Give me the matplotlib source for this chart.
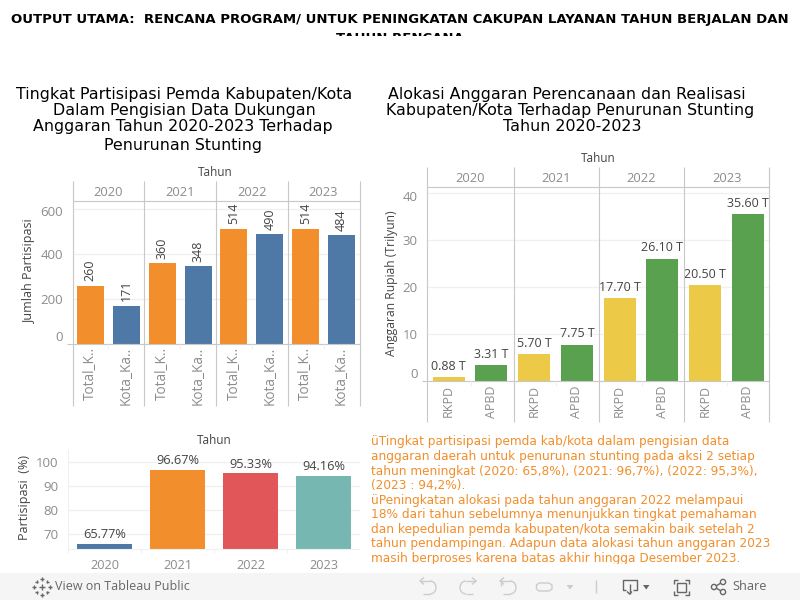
import numpy as np
import matplotlib
matplotlib.use('Agg')
import matplotlib.pyplot as plt
from matplotlib.patches import Rectangle, Circle, Arc, Polygon
from matplotlib.transforms import ScaledTranslation

# Data
years = ['2020', '2021', '2022', '2023']

partisipasi_labels = ['Total_K..', 'Kota_Ka..'] * 4
partisipasi_values = [260, 171, 360, 348, 514, 490, 514, 484]

anggaran_labels = ['RKPD', 'APBD'] * 4
anggaran_values = [0.88, 3.31, 5.70, 7.75, 17.70, 26.10, 20.50, 35.60]

persen_values = [65.77, 96.67, 95.33, 94.16]

heading = 'OUTPUT UTAMA:  RENCANA PROGRAM/ UNTUK PENINGKATAN CAKUPAN LAYANAN TAHUN BERJALAN DAN'
heading2 = 'TAHUN RENCANA'
title_left = ['Tingkat Partisipasi Pemda Kabupaten/Kota', 'Dalam Pengisian Data Dukungan',
              'Anggaran Tahun 2020-2023 Terhadap', 'Penurunan Stunting']
title_right = ['Alokasi Anggaran Perencanaan dan Realisasi', 'Kabupaten/Kota Terhadap Penurunan Stunting',
               'Tahun 2020-2023']
notes = ['üTingkat partisipasi pemda kab/kota dalam pengisian data',
         'anggaran daerah untuk penurunan stunting pada aksi 2 setiap',
         'tahun meningkat (2020: 65,8%), (2021: 96,7%), (2022: 95,3%),',
         '(2023 : 94,2%).',
         'üPeningkatan alokasi pada tahun anggaran 2022 melampaui',
         '18% dari tahun sebelumnya menunjukkan tingkat pemahaman',
         'dan kepedulian pemda kabupaten/kota semakin baik setelah 2',
         'tahun pendampingan. Adapun data alokasi tahun anggaran 2023',
         'masih berproses karena batas akhir hingga Desember 2023.']

ORANGE = '#f28e2b'
BLUE = '#4e79a7'
YELLOW = '#edc948'
GREEN = '#59a14f'
RED = '#e15759'
TEAL = '#76b7b2'
GRID = '#f0f0f0'
PANEL = '#c8c8c8'
TICK_TXT = '#8c8c8c'
DARK = '#444444'
TAB_FONT = 'Open Sans'

W, H = 800, 600
fig = plt.figure(figsize=(W / 100, H / 100), dpi=100, facecolor='white')

# overlay in pixel coordinates for the texts and the frame lines
ov = fig.add_axes([0, 0, 1, 1], zorder=5)
ov.set_xlim(0, W)
ov.set_ylim(H, 0)
ov.axis('off')


def px_axes(left, right, top, bottom):
    return fig.add_axes([left / W, 1 - bottom / H, (right - left) / W, (bottom - top) / H])


def style_axes(ax, yticks, ymin, ymax):
    for s in ax.spines.values():
        s.set_visible(False)
    ax.set_ylim(ymin, ymax)
    ax.set_yticks(yticks)
    ax.grid(axis='y', color=GRID, linewidth=1)
    ax.set_axisbelow(True)
    ax.tick_params(axis='y', length=0, pad=7, labelsize=9.5, labelcolor=TICK_TXT)
    ax.tick_params(axis='x', length=0, labelsize=9.2, labelcolor=TICK_TXT)
    for t in ax.get_yticklabels() + ax.get_xticklabels():
        t.set_fontfamily(TAB_FONT)


def shift_label(label, dy_px):
    label.set_transform(label.get_transform() + ScaledTranslation(0, dy_px / 100, fig.dpi_scale_trans))


def vline(x, y0, y1, color=PANEL, lw=0.8):
    ov.plot([x, x], [y0, y1], color=color, lw=lw, solid_capstyle='butt')


def hline(y, x0, x1, color=PANEL, lw=0.8):
    ov.plot([x0, x1], [y, y], color=color, lw=lw, solid_capstyle='butt')


def tab_text(x, y, s, size=9, color=DARK, **kw):
    kw.setdefault('ha', 'center')
    kw.setdefault('va', 'center')
    ov.text(x, y, s, fontsize=size, color=color, fontfamily=TAB_FONT, **kw)


# heading, the second line is cut off by its container
ov.text(399.5, 20, heading, fontsize=9.5, fontweight='bold', ha='center', va='center', color='black')
ov.text(400, 39, heading2, fontsize=9.5, fontweight='bold', ha='center', va='center', color='black')
ov.add_patch(Rectangle((0, 35.5), W, 15, facecolor='white', edgecolor='none', zorder=3))

for line, x, y in zip(title_left, [184.5, 184.5, 183, 183.5], [94.5, 110.5, 126.5, 145.5]):
    ov.text(x, y, line, fontsize=11.4, ha='center', va='center', color='black')
for line, x, y in zip(title_right, [567, 570, 572], [94.5, 110.5, 126.5]):
    ov.text(x, y, line, fontsize=11.4, ha='center', va='center', color='black')

# participation count chart
ax1 = px_axes(72.5, 359.5, 201.3, 344)
x1 = np.arange(len(partisipasi_values))
ax1.bar(x1, partisipasi_values, width=0.75, color=[ORANGE, BLUE] * 4)
ax1.set_xlim(-0.5, 7.5)
style_axes(ax1, [0, 200, 400, 600], 0, 635.6)
ax1.set_xticks(x1)
ax1.set_xticklabels(partisipasi_labels, rotation=90, va='top', fontfamily=TAB_FONT, fontsize=9.8)
ax1.tick_params(axis='x', pad=2)
ax1.get_yticklabels()[0].set_va('bottom')
shift_label(ax1.get_yticklabels()[-1], -2)
for x, v in zip(x1, partisipasi_values):
    ax1.annotate(str(v), (x, v), xytext=(0, 3), textcoords='offset points', rotation=90,
                 ha='center', va='bottom', fontsize=9, color=DARK, fontfamily=TAB_FONT)
for x in [72.5, 144, 216, 287.5, 359.5]:
    vline(x, 181, 406)
hline(201.3, 72.5, 359.5)
hline(344, 67, 359.5)
for x in [108, 180, 252, 323.5]:
    vline(x, 344, 349, color=GRID)
for x, year in zip([108, 180, 252, 323.5], years):
    tab_text(x, 192, year, size=9.3, color=TICK_TXT)
tab_text(215, 172, 'Tahun', size=8.5)
tab_text(30, 272, 'Jumlah Partisipasi', size=9, rotation=90)

# budget chart
ax2 = px_axes(427.3, 769.3, 187.3, 381)
x2 = np.arange(len(anggaran_values))
ax2.bar(x2, anggaran_values, width=0.75, color=[YELLOW, GREEN] * 4)
ax2.set_xlim(-0.5, 7.5)
style_axes(ax2, [0, 10, 20, 30, 40], 0, 41.3)
ax2.set_xticks(x2)
ax2.set_xticklabels(anggaran_labels, rotation=90, va='top', fontfamily=TAB_FONT, fontsize=9)
ax2.tick_params(axis='x', pad=3)
ax2.get_yticklabels()[0].set_va('bottom')
shift_label(ax2.get_yticklabels()[-1], -3)
for x, v in zip(x2, anggaran_values):
    ax2.annotate('%.2f T' % v, (x, v), xytext=(0, 3), textcoords='offset points',
                 ha='center', va='bottom', fontsize=9, color=DARK, fontfamily=TAB_FONT)
for x in [427.3, 513.7, 598.7, 684.3, 769.3]:
    vline(x, 167, 421.7)
hline(187.3, 427.3, 769.3)
hline(381, 422, 769.3)
for x in [470.5, 556, 641.5, 727]:
    vline(x, 381, 386, color=GRID)
for x, year in zip([470, 556, 641.5, 727], years):
    tab_text(x, 178, year, size=9.3, color=TICK_TXT)
tab_text(598, 158, 'Tahun', size=8.5)
tab_text(391, 283, 'Anggaran Rupiah (Trilyun)', size=8.7, rotation=90)

# participation percent chart
ax3 = px_axes(68.3, 360.3, 449, 549)
x3 = np.arange(len(persen_values))
ax3.bar(x3, persen_values, width=0.75, color=[BLUE, ORANGE, RED, TEAL])
ax3.set_xlim(-0.5, 3.5)
style_axes(ax3, [70, 80, 90, 100], 63.7, 105.5)
ax3.set_xticks(x3)
ax3.set_xticklabels(years, fontfamily=TAB_FONT)
ax3.tick_params(axis='x', pad=7)
for x, v in zip(x3, persen_values):
    ax3.annotate('%.2f%%' % v, (x, v), xytext=(0, 2), textcoords='offset points',
                 ha='center', va='bottom', fontsize=9.2, color=DARK, fontfamily=TAB_FONT)
hline(549, 68.3, 360.3, color=GRID)
vline(68.3, 449, 553, color=GRID)
for x in [141.3, 214.3, 287.3]:
    vline(x, 549, 553, color=GRID)
tab_text(214, 441, 'Tahun', size=8.5)
tab_text(25, 498, 'Partisipasi  (%)', size=9, rotation=90)

# notes, the last line is cut off too
for i, line in enumerate(notes):
    ov.text(371, 442 + i * 14.55, line, fontsize=8.7, color=ORANGE, ha='left', va='center')
ov.add_patch(Rectangle((365, 564), 435, 9, facecolor='white', edgecolor='none', zorder=3))

# tableau toolbar
ov.add_patch(Rectangle((0, 573), W, 27, facecolor='#f5f5f5', edgecolor='none', zorder=3))
GREY = '#666666'
LIGHT = '#cccccc'


def icon_line(xs, ys, color=GREY, lw=1):
    ov.plot(xs, ys, color=color, lw=lw, zorder=4, solid_capstyle='butt')


ov.text(55, 586.5, 'View on Tableau Public', fontsize=9, color=GREY, fontfamily=TAB_FONT,
        ha='left', va='center', zorder=4)
for cx, cy, r in [(41.7, 586.7, 3), (41.7, 579, 2), (41.7, 594.5, 2), (34, 586.7, 2), (49.5, 586.7, 2),
                  (36.5, 581.5, 1.5), (47, 581.5, 1.5), (36.5, 592, 1.5), (47, 592, 1.5)]:
    icon_line([cx - r, cx + r], [cy, cy])
    icon_line([cx, cx], [cy - r, cy + r])

for x0, flip in [(420, 1), (476, -1), (500, 1)]:
    xs = [x0, x0 + flip * 10]
    icon_line(xs, [581, 581], color=LIGHT)
    ov.add_patch(Arc((x0 + flip * 10, 587.5), 12, 13, theta1=-90, theta2=90, color=LIGHT, lw=1, zorder=4)
                 if flip == 1 else
                 Arc((x0 + flip * 10, 587.5), 12, 13, theta1=90, theta2=270, color=LIGHT, lw=1, zorder=4))
    icon_line([x0 + flip * 4, x0, x0 + flip * 4], [577.5, 581, 584.5], color=LIGHT)
    icon_line([x0 + flip * 10, x0 + flip * 3], [594, 594], color=LIGHT)
icon_line([500.5, 500.5], [579, 586], color=LIGHT)
icon_line([549, 539, 536.5, 536.5, 539, 549, 552, 552, 549], [583, 583, 585, 589, 591, 591, 589, 585, 583], color=LIGHT)
ov.add_patch(Polygon([(566.5, 585), (573.5, 585), (570, 589.5)], facecolor=LIGHT, edgecolor='none', zorder=4))
icon_line([595.5, 595.5], [580, 593], color=LIGHT)

icon_line([626, 622.5, 622.5, 636.5, 636.5, 633], [590, 590, 580, 580, 590, 590])
icon_line([629.5, 629.5], [584, 594])
icon_line([627, 629.5, 632], [591.5, 594, 591.5])
ov.add_patch(Polygon([(643, 585), (649.5, 585), (646.2, 589.5)], facecolor=GREY, edgecolor='none', zorder=4))

ov.add_patch(Rectangle((677, 582.5), 9, 9, facecolor='none', edgecolor=GREY, lw=1, zorder=4))
for cx, cy, dx, dy in [(673.5, 579.5, 1, 1), (689, 579.5, -1, 1), (673.5, 595, 1, -1), (689, 595, -1, -1)]:
    icon_line([cx + dx * 4, cx, cx], [cy, cy, cy + dy * 4])

for cx, cy in [(723, 582), (714, 587), (723, 592)]:
    ov.add_patch(Circle((cx, cy), 2.6, facecolor='none', edgecolor=GREY, lw=1, zorder=4))
icon_line([716.3, 720.7], [585.8, 583.2])
icon_line([716.3, 720.7], [588.2, 590.8])
ov.text(732, 586.5, 'Share', fontsize=9.2, color=GREY, fontfamily=TAB_FONT, ha='left', va='center', zorder=4)

plt.savefig('out.png', dpi=100)
